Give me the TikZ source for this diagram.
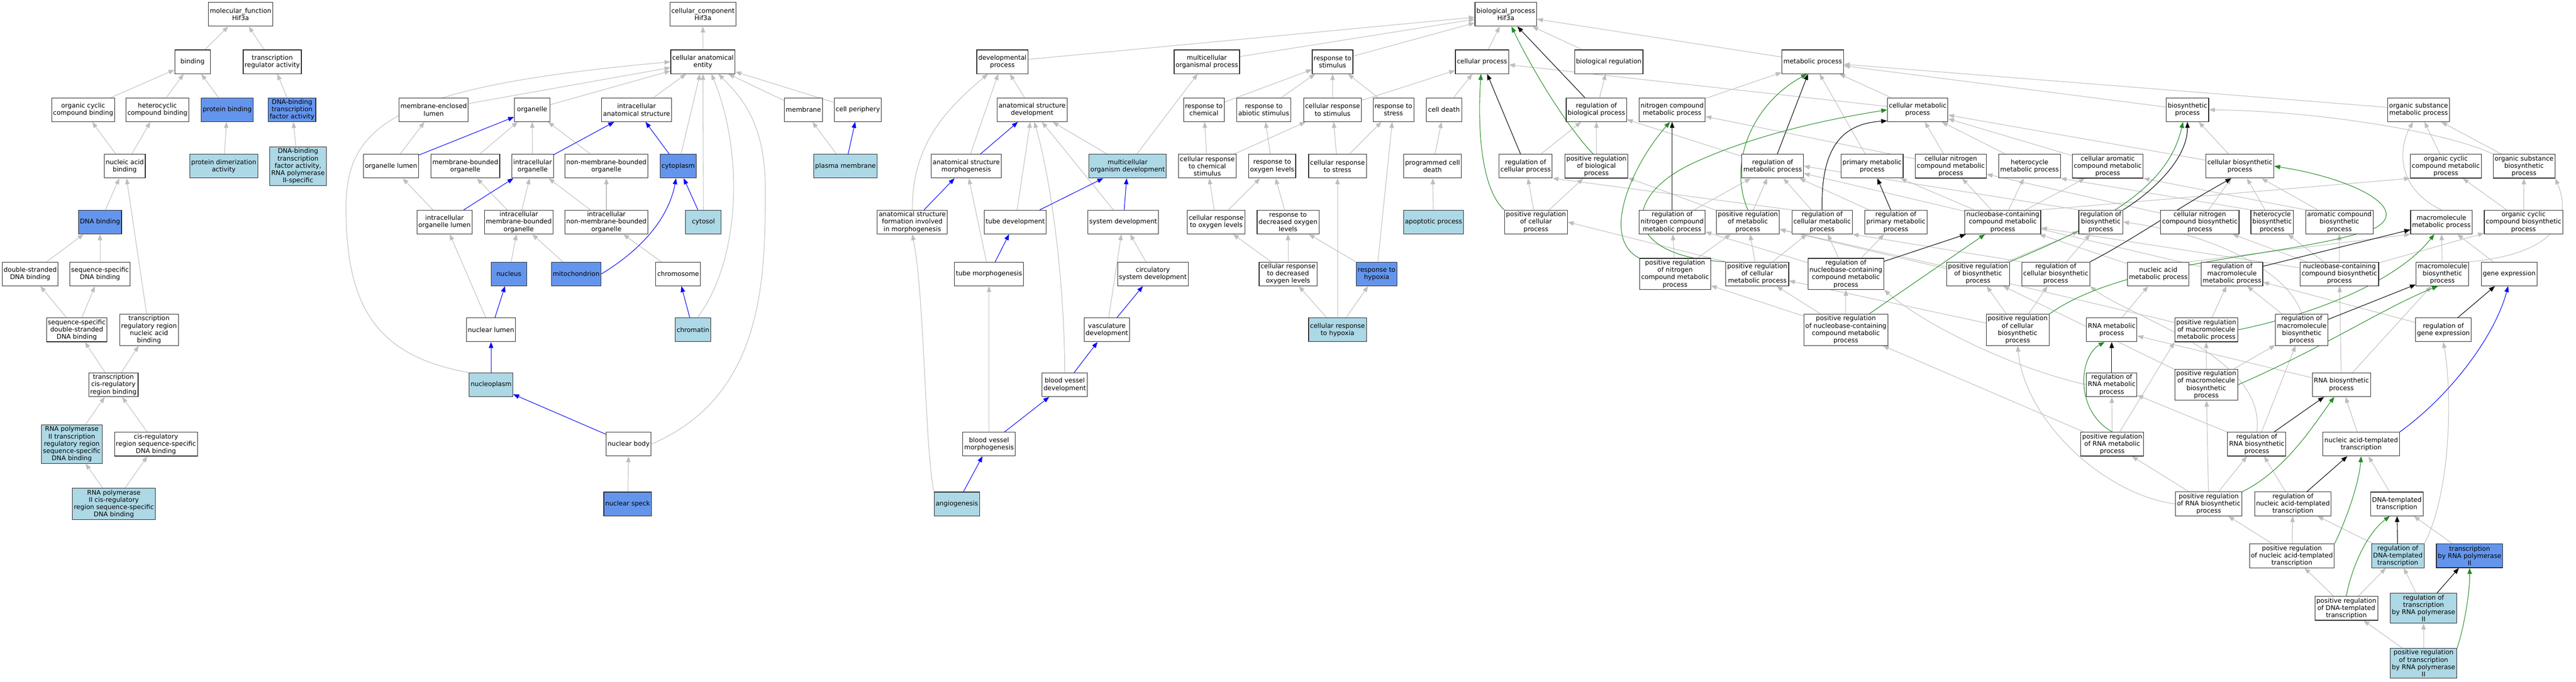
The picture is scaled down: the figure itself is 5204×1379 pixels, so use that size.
\documentclass[tikz,border=0pt]{standalone}
\usepackage{fontspec}
\setmainfont{DejaVu Sans}
\usetikzlibrary{arrows.meta,backgrounds}
\definecolor{hitblue}{HTML}{6495ED}
\definecolor{nearblue}{HTML}{ADD8E6}
\definecolor{edgegray}{HTML}{BEBEBE}
\definecolor{regreen}{HTML}{228B22}
\tikzset{
  term/.style={draw=black!85, line width=0.6pt, fill=white, align=center,
    inner xsep=1.5pt, inner ysep=1.5pt, minimum height=24pt, minimum width=36pt,
    font=\fontsize{6.5}{7.4}\selectfont},
  hitbox/.style={term, fill=hitblue},
  nearbox/.style={term, fill=nearblue},
  isa/.style={draw=edgegray, line width=0.55pt, -{Triangle[length=6pt,width=4.5pt]}},
  reg/.style={isa, draw=black},
  posreg/.style={isa, draw=regreen},
  partof/.style={isa, draw=blue},
}
\begin{document}
\begin{tikzpicture}[x=0.5pt,y=-0.5pt]
\useasboundingbox (0,0) rectangle (5204,1379);
% molecular function
\node[term] (mf) at (486,29) {molecular\_function\\Hif3a};
\node[term] (binding) at (389,125) {binding};
\node[term] (tra) at (550,125) {transcription\\regulator activity};
\node[term] (ocb) at (168,222) {organic cyclic\\compound binding};
\node[term] (hcb) at (318,222) {heterocyclic\\compound binding};
\node[hitbox] (pb) at (459,222) {protein binding};
\node[hitbox] (dbtf) at (590,222) {DNA-binding\\transcription\\factor activity};
\node[term] (nab) at (252,336) {nucleic acid\\binding};
\node[nearbox] (pda) at (452,336) {protein dimerization\\activity};
\node[nearbox] (dbtf2) at (602,336) {DNA-binding\\transcription\\factor activity,\\RNA polymerase\\II-specific};
\node[hitbox] (dnab) at (202,449) {DNA binding};
\node[term] (dsdb) at (61,554) {double-stranded\\DNA binding};
\node[term] (ssdb) at (202,554) {sequence-specific\\DNA binding};
\node[term] (ssds) at (155,667) {sequence-specific\\double-stranded\\DNA binding};
\node[term] (trrb) at (301,667) {transcription\\regulatory region\\nucleic acid\\binding};
\node[term] (tcrb) at (229,778) {transcription\\cis-regulatory\\region binding};
\node[nearbox] (rp2tr) at (145,898) {RNA polymerase\\II transcription\\regulatory region\\sequence-specific\\DNA binding};
\node[term] (crss) at (315,898) {cis-regulatory\\region sequence-specific\\DNA binding};
\node[nearbox] (rp2cr) at (230,1019) {RNA polymerase\\II cis-regulatory\\region sequence-specific\\DNA binding};
% cellular component
\node[term] (cc) at (1420,29) {cellular\_component\\Hif3a};
\node[term] (cae) at (1420,125) {cellular anatomical\\entity};
\node[term] (mel) at (876,222) {membrane-enclosed\\lumen};
\node[term] (org) at (1075,222) {organelle};
\node[term] (ias) at (1286,222) {intracellular\\anatomical structure};
\node[term] (mem) at (1623,222) {membrane};
\node[term] (cper) at (1733,222) {cell periphery};
\node[term] (olum) at (790,336) {organelle lumen};
\node[term] (mbo) at (940,336) {membrane-bounded\\organelle};
\node[term] (iorg) at (1076,336) {intracellular\\organelle};
\node[term] (nmbo) at (1225,336) {non-membrane-bounded\\organelle};
\node[hitbox] (cyto) at (1370,336) {cytoplasm};
\node[nearbox] (pmem) at (1708,336) {plasma membrane};
\node[term] (iol) at (898,449) {intracellular\\organelle lumen};
\node[term] (imbo) at (1048,449) {intracellular\\membrane-bounded\\organelle};
\node[term] (inmbo) at (1225,449) {intracellular\\non-membrane-bounded\\organelle};
\node[nearbox] (cytosol) at (1421,449) {cytosol};
\node[hitbox] (nuc) at (1028,554) {nucleus};
\node[hitbox] (mito) at (1164,554) {mitochondrion};
\node[term] (chrom) at (1370,554) {chromosome};
\node[term] (nlum) at (992,667) {nuclear lumen};
\node[nearbox] (chrmt) at (1400,667) {chromatin};
\node[nearbox] (nplasm) at (992,778) {nucleoplasm};
\node[term] (nbody) at (1270,898) {nuclear body};
\node[hitbox] (nspeck) at (1268,1019) {nuclear speck};
% biological process
\node[term] (bp) at (3042,29) {biological\_process\\Hif3a};
\node[term] (devp) at (2025,125) {developmental\\process};
\node[term] (mop) at (2438,125) {multicellular\\organismal process};
\node[term] (rstim) at (2692,125) {response to\\stimulus};
\node[term] (cproc) at (2994,125) {cellular process};
\node[term] (breg) at (3250,125) {biological regulation};
\node[term] (metp) at (3662,125) {metabolic process};
\node[term] (asd) at (2085,222) {anatomical structure\\development};
\node[term] (rchem) at (2432,222) {response to\\chemical};
\node[term] (rabio) at (2553,222) {response to\\abiotic stimulus};
\node[term] (crstim) at (2692,222) {cellular response\\to stimulus};
\node[term] (rstress) at (2815,222) {response to\\stress};
\node[term] (cdeath) at (2917,222) {cell death};
\node[term] (rbp) at (3225,222) {regulation of\\biological process};
\node[term] (ncmp) at (3378,222) {nitrogen compound\\metabolic process};
\node[term] (cmp) at (3874,222) {cellular metabolic\\process};
\node[term] (biosyn) at (4419,222) {biosynthetic\\process};
\node[term] (osmp) at (4886,222) {organic substance\\metabolic process};
\node[term] (asm) at (1952,336) {anatomical structure\\morphogenesis};
\node[nearbox] (mod) at (2278,336) {multicellular\\organism development};
\node[term] (crchem) at (2439,336) {cellular response\\to chemical\\stimulus};
\node[term] (roxy) at (2570,336) {response to\\oxygen levels};
\node[term] (crstress) at (2702,336) {cellular response\\to stress};
\node[term] (pcd) at (2894,336) {programmed cell\\death};
\node[term] (rcp) at (3082,336) {regulation of\\cellular process};
\node[term] (prbp) at (3225,336) {positive regulation\\of biological\\process};
\node[term] (rmp) at (3581,336) {regulation of\\metabolic process};
\node[term] (pmp) at (3782,336) {primary metabolic\\process};
\node[term] (cncmp) at (3941,336) {cellular nitrogen\\compound metabolic\\process};
\node[term] (hmp) at (4100,336) {heterocycle\\metabolic process};
\node[term] (camp) at (4258,336) {cellular aromatic\\compound metabolic\\process};
\node[term] (cbp) at (4525,336) {cellular biosynthetic\\process};
\node[term] (occmp) at (4941,336) {organic cyclic\\compound metabolic\\process};
\node[term] (osbp) at (5099,336) {organic substance\\biosynthetic\\process};
\node[term] (asfm) at (1843,449) {anatomical structure\\formation involved\\in morphogenesis};
\node[term] (tdev) at (2051,449) {tube development};
\node[term] (sdev) at (2269,449) {system development};
\node[term] (croxy) at (2457,449) {cellular response\\to oxygen levels};
\node[term] (rdoxy) at (2602,449) {response to\\decreased oxygen\\levels};
\node[nearbox] (apop) at (2896,449) {apoptotic process};
\node[term] (prcp) at (3103,449) {positive regulation\\of cellular\\process};
\node[term] (rncmp) at (3378,449) {regulation of\\nitrogen compound\\metabolic process};
\node[term] (prmp) at (3531,449) {positive regulation\\of metabolic\\process};
\node[term] (rcmp) at (3681,449) {regulation of\\cellular metabolic\\process};
\node[term] (rpmp) at (3830,449) {regulation of\\primary metabolic\\process};
\node[term] (nbcmp) at (4046,449) {nucleobase-containing\\compound metabolic\\process};
\node[term] (rbiosyn) at (4244,449) {regulation of\\biosynthetic\\process};
\node[term] (cncbp) at (4444,449) {cellular nitrogen\\compound biosynthetic\\process};
\node[term] (hbp) at (4590,449) {heterocycle\\biosynthetic\\process};
\node[term] (acbp) at (4726,449) {aromatic compound\\biosynthetic\\process};
\node[term] (mmp) at (4932,449) {macromolecule\\metabolic process};
\node[term] (occbp) at (5098,449) {organic cyclic\\compound biosynthetic\\process};
\node[term] (tmorph) at (1998,554) {tube morphogenesis};
\node[term] (csdev) at (2329,554) {circulatory\\system development};
\node[term] (crdoxy) at (2602,554) {cellular response\\to decreased\\oxygen levels};
\node[hitbox] (rhyp) at (2781,554) {response to\\hypoxia};
\node[term] (prncmp) at (3384,554) {positive regulation\\of nitrogen\\compound metabolic\\process};
\node[term] (prcmp) at (3550,554) {positive regulation\\of cellular\\metabolic process};
\node[term] (rnbcmp) at (3729,554) {regulation of\\nucleobase-containing\\compound metabolic\\process};
\node[term] (prbiosyn) at (3996,554) {positive regulation\\of biosynthetic\\process};
\node[term] (rcbp) at (4153,554) {regulation of\\cellular biosynthetic\\process};
\node[term] (namp) at (4360,554) {nucleic acid\\metabolic process};
\node[term] (rmmp) at (4509,554) {regulation of\\macromolecule\\metabolic process};
\node[term] (nbcbp) at (4726,554) {nucleobase-containing\\compound biosynthetic\\process};
\node[term] (mbp) at (4934,554) {macromolecule\\biosynthetic\\process};
\node[term] (gexp) at (5069,554) {gene expression};
\node[term] (vdev) at (2236,667) {vasculature\\development};
\node[nearbox] (crhyp) at (2702,667) {cellular response\\to hypoxia};
\node[term] (prnbcmp) at (3729,667) {positive regulation\\of nucleobase-containing\\compound metabolic\\process};
\node[term] (prcbp) at (4076,667) {positive regulation\\of cellular\\biosynthetic\\process};
\node[term] (rnamp) at (4266,667) {RNA metabolic\\process};
\node[term] (prmmp) at (4457,667) {positive regulation\\of macromolecule\\metabolic process};
\node[term] (rmbp) at (4650,667) {regulation of\\macromolecule\\biosynthetic\\process};
\node[term] (rgexp) at (4936,667) {regulation of\\gene expression};
\node[term] (bvdev) at (2151,778) {blood vessel\\development};
\node[term] (rrnamp) at (4266,778) {regulation of\\RNA metabolic\\process};
\node[term] (prmbp) at (4457,778) {positive regulation\\of macromolecule\\biosynthetic\\process};
\node[term] (rnabp) at (4730,778) {RNA biosynthetic\\process};
\node[term] (bvmorph) at (1998,898) {blood vessel\\morphogenesis};
\node[term] (prrnamp) at (4267,898) {positive regulation\\of RNA metabolic\\process};
\node[term] (rrnabp) at (4559,898) {regulation of\\RNA biosynthetic\\process};
\node[term] (natt) at (4770,898) {nucleic acid-templated\\transcription};
\node[nearbox] (angio) at (1933,1019) {angiogenesis};
\node[term] (prrnabp) at (4462,1019) {positive regulation\\of RNA biosynthetic\\process};
\node[term] (rnatt) at (4632,1019) {regulation of\\nucleic acid-templated\\transcription};
\node[term] (dtt) at (4842,1019) {DNA-templated\\transcription};
\node[term] (prnatt) at (4630,1124) {positive regulation\\of nucleic acid-templated\\transcription};
\node[nearbox] (rdtt) at (4844,1124) {regulation of\\DNA-templated\\transcription};
\node[hitbox] (trp2) at (4989,1124) {transcription\\by RNA polymerase\\II};
\node[term] (prdtt) at (4740,1230) {positive regulation\\of DNA-templated\\transcription};
\node[nearbox] (rtrp2) at (4896,1230) {regulation of\\transcription\\by RNA polymerase\\II};
\node[nearbox] (prtrp2) at (4896,1341) {positive regulation\\of transcription\\by RNA polymerase\\II};

\begin{pgfonlayer}{background}
\fill[white] (0,0) rectangle (5204,1379);
\foreach \a/\b in {binding/mf, tra/mf, ocb/binding, hcb/binding, pb/binding, dbtf/tra,
  nab/ocb, nab/hcb, pda/pb, dbtf2/dbtf, dnab/nab, trrb/nab, dsdb/dnab, ssdb/dnab,
  ssds/dsdb, ssds/ssdb, tcrb/ssds, tcrb/trrb, rp2tr/tcrb, crss/tcrb, rp2cr/rp2tr, rp2cr/crss,
  cae/cc, mel/cae, org/cae, ias/cae, cyto/cae, cytosol/cae, mem/cae, cper/cae, olum/mel,
  mbo/org, iorg/org, nmbo/org, pmem/mem, iol/olum, imbo/mbo, imbo/iorg, inmbo/iorg,
  inmbo/nmbo, nuc/imbo, mito/imbo, chrom/inmbo, nlum/iol, nspeck/nbody,
  devp/bp, mop/bp, asd/devp, asm/devp, mod/asd, mod/mop, tdev/asd, sdev/asd, tmorph/asm,
  csdev/sdev, vdev/sdev, bvmorph/tmorph,
  rstim/bp, rchem/rstim, rabio/rstim, crstim/rstim, rstress/rstim, crstim/cproc,
  crchem/rchem, crchem/crstim, roxy/rabio, crstress/crstim, crstress/rstress, croxy/crchem,
  croxy/roxy, rdoxy/roxy, crdoxy/croxy, crdoxy/rdoxy, rhyp/rdoxy, rhyp/rstress,
  crhyp/crdoxy, crhyp/rhyp, crhyp/crstress, cproc/bp, breg/bp, cdeath/cproc, pcd/cdeath,
  apop/pcd, rbp/breg, rcp/rbp, prbp/rbp, prcp/rcp, prcp/prbp,
  metp/bp, ncmp/metp, cmp/metp, pmp/metp, biosyn/metp, osmp/metp, cmp/cproc, rmp/rbp,
  prmp/prbp, prmp/rmp, rcmp/rmp, rpmp/rmp, rncmp/rmp, prncmp/rncmp, prncmp/prmp,
  cncmp/cmp, cncmp/ncmp, hmp/cmp, camp/cmp, nbcmp/cncmp, nbcmp/hmp, nbcmp/camp, nbcmp/pmp,
  prcmp/prmp, prcmp/rcmp, rnbcmp/rcmp, rnbcmp/rpmp, rnbcmp/rncmp,
  prnbcmp/prcmp, prnbcmp/rnbcmp, prnbcmp/prncmp, prbiosyn/rbiosyn, prbiosyn/prmp,
  rcbp/rbiosyn, prcbp/prbiosyn, prcbp/rcbp, prcbp/prcmp, namp/nbcmp, rnamp/namp,
  prrnamp/rrnamp, prrnamp/prnbcmp, cbp/biosyn, cbp/cmp, osbp/osmp, occmp/osmp,
  occbp/occmp, occbp/osbp, mbp/mmp, gexp/mmp, cncbp/cbp, cncbp/cncmp, hbp/cbp, acbp/cbp,
  nbcbp/cncbp, nbcbp/hbp, nbcbp/acbp, nbcbp/occbp, nbcbp/nbcmp, rmmp/rmp, rgexp/rmmp,
  prmmp/rmmp, prmmp/prmp, rmbp/rmmp, prmbp/prmmp, prmbp/rmbp, prmbp/prbiosyn, rnabp/mbp,
  rnabp/nbcbp, rnabp/rnamp, rrnabp/rmbp, rrnabp/rrnamp, natt/rnabp, prrnabp/rrnabp,
  prrnabp/prmbp, prrnabp/prrnamp, rnatt/rrnabp, dtt/natt, prnatt/prrnabp, prnatt/rnatt,
  rdtt/rnatt, trp2/dtt, prdtt/prnatt, prdtt/rdtt, rtrp2/rdtt, prtrp2/prdtt, prtrp2/rtrp2}
  \draw[isa] (\a) -- (\b);
\draw[isa] (rcmp.north west) -- (rcp.south east);
\draw[isa] (prcmp.north west) -- (prcp.east);
\draw[isa] (rbiosyn.north west) -- (rmp.east);
\draw[isa] (rcbp.north west) -- (rcmp.south east);
\draw[isa] (nbcmp.north east) -- (occmp.south west);
\draw[isa] (namp.north east) -- (mmp.south west);
\draw[isa] (hbp.north west) -- (hmp.south east);
\draw[isa] (acbp.north west) -- (camp.south east);
\draw[isa] (prrnamp) -- (prmmp.south west);
\draw[isa] (nplasm.north west) .. controls (760,720) and (699,620) .. (699,420)
  .. controls (699,250) and (800,175) .. (cae.west);
\draw[isa] (chrmt.70) .. controls (1500,520) and (1500,300) .. (cae.-55);
\draw[isa] (nbody.east) .. controls (1545,800) and (1546,560) .. (1546,380)
  .. controls (1546,240) and (1490,190) .. (cae.-38);
\draw[isa] (asfm.north) .. controls (1843,300) and (1900,230) .. (devp.-140);
\draw[isa] (angio.north west) .. controls (1868,900) and (1868,600) .. (asfm.south);
\draw[isa] (bvdev.north) .. controls (2150,550) and (2120,350) .. (asd.-80);
\draw[isa] (rrnamp.west) .. controls (4050,740) and (3880,650) .. (rnbcmp.south east);
\draw[isa] (osbp.north west) .. controls (4950,270) and (4700,225) .. (biosyn.east);
\draw[isa] (mbp.north east) .. controls (5150,515) and (5200,450) .. (osbp.south east);
\draw[isa] (mmp.north) .. controls (4840,380) and (4845,300) .. (osmp.-115);
\draw[isa] (rdtt.north east) .. controls (4950,1000) and (4955,800) .. (rgexp.south);
\draw[isa] (rmbp.north) .. controls (4620,540) and (4450,470) .. (rbiosyn.east);
\draw[isa] (prrnabp.west) .. controls (4250,1000) and (4090,850) .. (prcbp.south);
\draw[isa] (rrnabp.north) .. controls (4580,720) and (4300,640) .. (rcbp.south east);
\foreach \a/\b in {olum/org, iorg/ias, cyto/ias, pmem/cper, iol/iorg, cytosol/cyto,
  nlum/nuc, chrmt/chrom, nplasm/nlum, nbody/nplasm, asm/asd, asfm/asm, tdev/mod,
  sdev/mod, tmorph/tdev, vdev/csdev, bvdev/vdev, bvmorph/bvdev, angio/bvmorph}
  \draw[partof] (\a) -- (\b);
\draw[partof] (mito.east) .. controls (1320,490) and (1355,420) .. (cyto.-100);
\draw[partof] (natt.north east) .. controls (4950,800) and (5040,680) .. (gexp.-95);
\foreach \a/\b in {rbp/bp, rcp/cproc, rncmp/ncmp, rmp/metp, rpmp/pmp, rnbcmp/nbcmp,
  rmmp/mmp, rmbp/mbp, rgexp/gexp, rrnamp/rnamp, rrnabp/rnabp, rnatt/natt, rdtt/dtt, rtrp2/trp2}
  \draw[reg] (\a) -- (\b);
\draw[reg] (rcmp.north) .. controls (3678,300) and (3720,250) .. (cmp.-160);
\draw[reg] (rbiosyn.north east) .. controls (4330,400) and (4419,330) .. (biosyn.south);
\draw[reg] (rcbp.north east) .. controls (4300,490) and (4400,420) .. (cbp.-125);
\draw[posreg] (prnbcmp) -- (nbcmp);
\draw[posreg] (prbp.105) .. controls (3160,250) and (3090,130) .. (bp.-65);
\draw[posreg] (prcp.north west) .. controls (2990,380) and (2985,250) .. (cproc.-95);
\draw[posreg] (prncmp.north west) .. controls (3230,480) and (3300,330) .. (ncmp.-100);
\draw[posreg] (prmp.north) .. controls (3490,330) and (3540,210) .. (metp.-115);
\draw[posreg] (prcmp.north west) .. controls (3280,520) and (3270,400) .. (3420,330)
  .. controls (3550,270) and (3700,240) .. (cmp.west);
\draw[posreg] (prbiosyn.north east) .. controls (4250,450) and (4380,380) .. (biosyn.-110);
\draw[posreg] (prcbp.north east) .. controls (4300,520) and (4650,520) .. (4800,460)
  .. controls (4870,420) and (4750,360) .. (cbp.east);
\draw[posreg] (prmmp.east) .. controls (4700,630) and (4850,560) .. (mmp.-120);
\draw[posreg] (prmbp.east) .. controls (4700,700) and (4820,620) .. (mbp.-110);
\draw[posreg] (prrnamp.north) .. controls (4190,830) and (4200,720) .. (rnamp.-120);
\draw[posreg] (prrnabp.north east) .. controls (4620,950) and (4680,850) .. (rnabp.-120);
\draw[posreg] (prnatt.north east) .. controls (4740,1050) and (4765,980) .. (natt.-90);
\draw[posreg] (prdtt.north) .. controls (4750,1150) and (4780,1080) .. (dtt.-120);
\draw[posreg] (prtrp2.north east) .. controls (4975,1280) and (4990,1200) .. (trp2.-90);
\end{pgfonlayer}
\end{tikzpicture}
\end{document}
